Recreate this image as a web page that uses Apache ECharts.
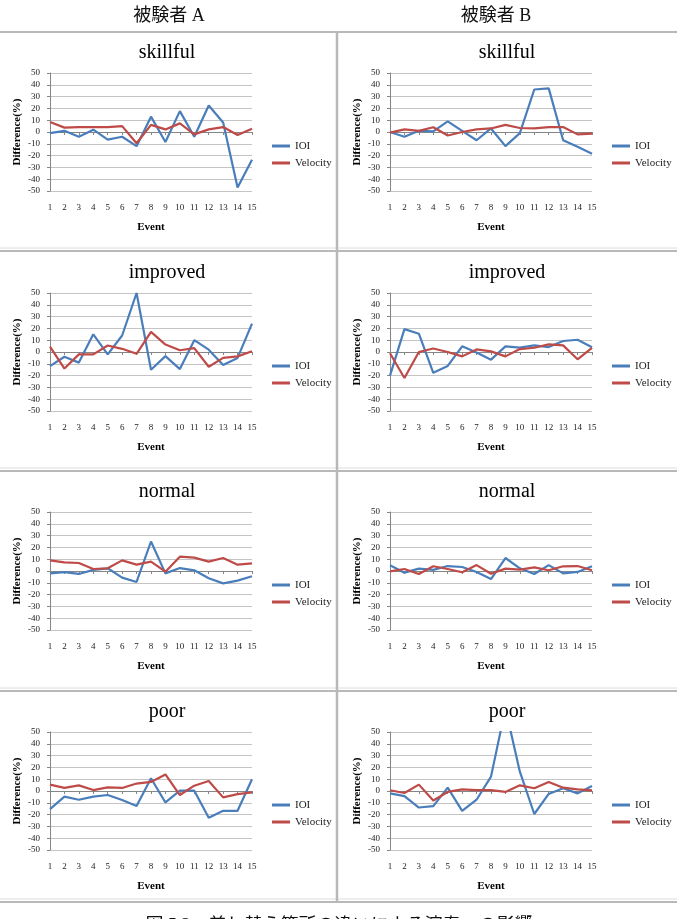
<!DOCTYPE html>
<html>
<head>
<meta charset="utf-8">
<script src="https://cdn.jsdelivr.net/npm/echarts@6.0.0/dist/echarts.min.js"></script>
<style>
html, body { margin: 0; padding: 0; background: #fff; }
#main { width: 677px; height: 919px; }
</style>
</head>
<body>
<div id="main"></div>
<script>
var events = ['1', '2', '3', '4', '5', '6', '7', '8', '9', '10', '11', '12', '13', '14', '15'];
var panelTitles = ['skillful', 'improved', 'normal', 'poor'];
var subjects = ['被験者 A', '被験者 B'];
var caption = '図 5.2　差し替え箇所の違いによる演奏への影響';

// 被験者 A
var aSkillfulIOI = [-1, 1, -4, 2, -6.5, -4, -12, 13, -8.5, 17.7, -4, 22.5, 8, -47, -23.6];
var aSkillfulVel = [8.4, 3.7, 4.2, 4.2, 4.2, 5, -9.5, 6, 2.2, 7.3, -2, 2.2, 4.2, -2.5, 2.8];
var aImprovedIOI = [-12, -4, -9, 15, -2, 14, 50, -15, -3.5, -14.5, 10, 2, -11, -5, 24];
var aImprovedVel = [4.5, -14, -2, -2, 5.5, 2.7, -1.5, 17, 6.3, 1.5, 3.3, -12.5, -5, -3.7, 0.7];
var aNormalIOI = [-2, -1, -2.5, 1, 2.3, -5.6, -9.3, 25, -2, 2.5, 0.6, -6.2, -10.5, -8.2, -4.5];
var aNormalVel = [9, 7.3, 6.8, 1.7, 2.3, 9, 5.4, 7.9, -0.6, 12.1, 11.3, 7.9, 11, 5.4, 6.5];
var aPoorIOI = [-15.3, -4.8, -7.4, -4.8, -3.4, -7.7, -12.8, 10.8, -9.7, 0.3, 0.3, -22.7, -16.8, -16.8, 10];
var aPoorVel = [5.4, 2.6, 4.8, 0.8, 3.1, 2.6, 6.3, 7.7, 14, -3.4, 4.5, 8.5, -5.4, -2.6, -1.1];

// 被験者 B
var bSkillfulIOI = [0, -4, 1, 0.5, 9, 1, -7, 3, -12, -1, 36, 37, -7, -12.5, -18.5];
var bSkillfulVel = [-0.5, 2.2, 1, 4, -3, 0, 2.2, 3, 6, 3.4, 3, 4.2, 4.2, -2, -1.4];
var bImprovedIOI = [-20, 19.4, 15.5, -17.6, -11.8, 4.8, -0.5, -6.5, 4.8, 3.7, 5.6, 4.2, 9.3, 10.4, 4];
var bImprovedVel = [-1, -22, 0, 3, 0, -3.7, 2.2, 0.5, -3.7, 2.5, 3.6, 6.5, 5.6, -6.2, 3.4];
var bNormalIOI = [4.8, -1.4, 2, 1, 4.2, 3.4, -0.8, -6.8, 11, 2.3, -2.5, 5, -2, -0.8, 4];
var bNormalVel = [-0.3, 1.7, -2.5, 4, 1.7, -1.1, 5, -2.3, 2, 1.1, 3.1, 0.6, 4, 4.2, 0.6];
var bPoorIOI = [-2, -4.3, -14, -12.8, 2.8, -16.8, -7.4, 12.2, 70, 16.4, -19.5, -2.5, 2.3, -2, 4.2];
var bPoorVel = [0.6, -1.7, 5.4, -8, -0.8, 1.4, 0.8, 0.8, -0.8, 4.8, 2.3, 7.7, 2.8, 1.4, 0.6];

var ioiData = [
    [aSkillfulIOI, bSkillfulIOI],
    [aImprovedIOI, bImprovedIOI],
    [aNormalIOI, bNormalIOI],
    [aPoorIOI, bPoorIOI]
];
var velData = [
    [aSkillfulVel, bSkillfulVel],
    [aImprovedVel, bImprovedVel],
    [aNormalVel, bNormalVel],
    [aPoorVel, bPoorVel]
];

var serif = '"Liberation Serif", "Noto Sans CJK JP", serif';
var blue = '#4a7ebb';
var red = '#be4b48';
var gridLefts = [50, 390];
var titleCenters = [167, 507];
var legendLefts = [272, 612];
var rowTops = [73, 293, 512, 732];

var chartDom = document.getElementById('main');
var myChart = echarts.init(chartDom);

var grids = [], xAxes = [], yAxes = [], series = [], legends = [], titles = [];

for (var r = 0; r < 4; r++) {
    for (var c = 0; c < 2; c++) {
        var idx = grids.length;
        grids.push({ left: gridLefts[c], top: rowTops[r], width: 202, height: 118 });
        titles.push({
            text: panelTitles[r],
            left: titleCenters[c],
            top: rowTops[r] - 30,
            textAlign: 'center',
            padding: 0,
            textStyle: { fontFamily: serif, fontSize: 20, fontWeight: 'normal', color: '#000' }
        });
        xAxes.push({
            type: 'category',
            gridIndex: idx,
            data: events,
            boundaryGap: false,
            axisLine: { lineStyle: { color: '#868686', width: 1 } },
            axisTick: { show: true, length: 3, lineStyle: { color: '#868686' } },
            axisLabel: { fontFamily: serif, fontSize: 9, color: '#222', margin: 12, interval: 0 },
            name: 'Event',
            nameLocation: 'middle',
            nameGap: 31,
            nameTextStyle: { fontFamily: serif, fontSize: 11, fontWeight: 'bold', color: '#000' }
        });
        yAxes.push({
            type: 'value',
            gridIndex: idx,
            min: -50,
            max: 50,
            interval: 10,
            axisLine: { show: true, lineStyle: { color: '#868686', width: 1 } },
            axisTick: { show: true, length: 3, lineStyle: { color: '#868686' } },
            splitLine: { lineStyle: { color: '#c4c4c4', width: 1 } },
            axisLabel: { fontFamily: serif, fontSize: 9, color: '#222', margin: 10 },
            name: 'Difference(%)',
            nameLocation: 'middle',
            nameRotate: 90,
            nameGap: 27,
            nameTextStyle: { fontFamily: serif, fontSize: 11, fontWeight: 'bold', color: '#000' }
        });
        series.push({
            name: 'IOI', type: 'line', xAxisIndex: idx, yAxisIndex: idx,
            data: ioiData[r][c], symbol: 'none', clip: true,
            lineStyle: { color: blue, width: 2.2 }, itemStyle: { color: blue }
        });
        series.push({
            name: 'Velocity', type: 'line', xAxisIndex: idx, yAxisIndex: idx,
            data: velData[r][c], symbol: 'none', clip: true,
            lineStyle: { color: red, width: 2.2 }, itemStyle: { color: red }
        });
        legends.push({
            orient: 'vertical',
            left: legendLefts[c],
            top: rowTops[r] + 67,
            padding: 0,
            itemGap: 5,
            itemWidth: 18,
            itemHeight: 3,
            itemTextGap: 3,
            icon: 'rect',
            selectedMode: false,
            data: ['IOI', 'Velocity'],
            textStyle: { fontFamily: serif, fontSize: 11, color: '#222', lineHeight: 12 }
        });
    }
}

// table borders, column headers and caption
var graphics = [];
var seps = [32, 251, 471, 691, 902];
seps.forEach(function (y, i) {
    if (i > 0) {
        graphics.push({ type: 'line', shape: { x1: 0, y1: y - 3, x2: 677, y2: y - 3 },
            style: { stroke: '#dcdcdc', lineWidth: 1 } });
    }
    graphics.push({ type: 'line', shape: { x1: 0, y1: y, x2: 677, y2: y },
        style: { stroke: '#b8b8b8', lineWidth: 2 } });
});
graphics.push({ type: 'line', shape: { x1: 337, y1: 32, x2: 337, y2: 902 },
    style: { stroke: '#b8b8b8', lineWidth: 2.5 } });
graphics.push({ type: 'text', x: 169, y: 16,
    style: { text: subjects[0], align: 'center', verticalAlign: 'middle', fontFamily: serif, fontSize: 18, fill: '#111' } });
graphics.push({ type: 'text', x: 496, y: 16,
    style: { text: subjects[1], align: 'center', verticalAlign: 'middle', fontFamily: serif, fontSize: 18, fill: '#111' } });
graphics.push({ type: 'text', x: 339, y: 926,
    style: { text: caption, align: 'center', verticalAlign: 'middle', fontFamily: serif, fontSize: 18, fill: '#111' } });

var option = {
    animation: false,
    backgroundColor: '#fff',
    title: titles,
    grid: grids,
    xAxis: xAxes,
    yAxis: yAxes,
    legend: legends,
    series: series,
    graphic: graphics
};

option && myChart.setOption(option);
</script>
</body>
</html>
